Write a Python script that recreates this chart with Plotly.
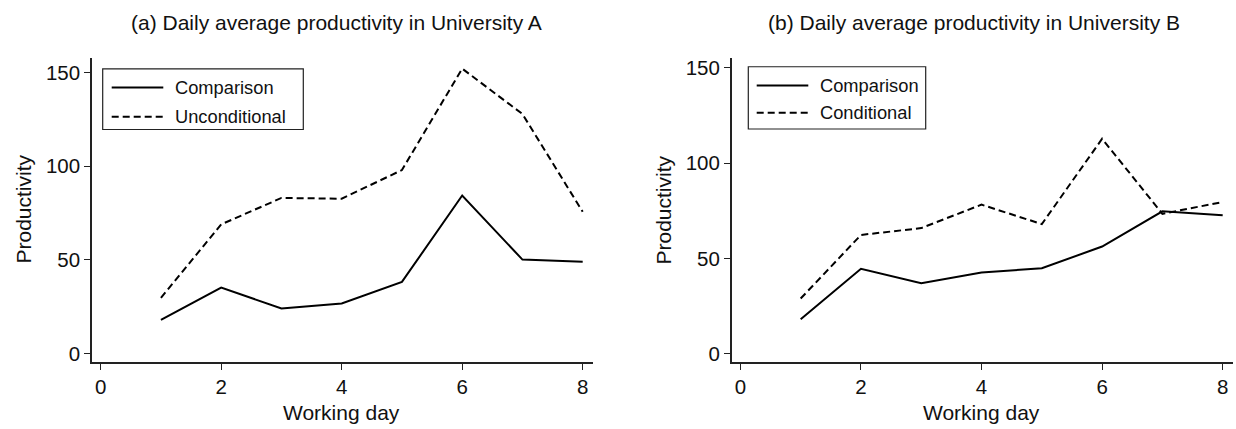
import plotly.graph_objects as go

days = [1, 2, 3, 4, 5, 6, 7, 8]
a_comparison = [18, 35.2, 24, 26.7, 38.2, 84.3, 50.1, 49]
a_unconditional = [29.7, 68.9, 83, 82.6, 97.9, 152, 127.8, 75.6]
b_comparison = [18, 44.5, 36.9, 42.6, 44.8, 56.2, 74.7, 72.7]
b_conditional = [28.9, 62.3, 65.9, 78.2, 68, 112.8, 73.4, 79.6]

x_ticks = [0, 2, 4, 6, 8]
y_ticks = [0, 50, 100, 150]
title_a = "(a) Daily average productivity in University A"
title_b = "(b) Daily average productivity in University B"
legend_a = ["Comparison", "Unconditional"]
legend_b = ["Comparison", "Conditional"]

W, H = 1236, 429
FONT = "Liberation Sans, Arial, sans-serif"
DASH = "7px,4px"
INK = "#111"

fig = go.Figure()
fig.add_trace(go.Scatter(x=days, y=a_comparison, mode="lines", name=legend_a[0],
                         line=dict(color="black", width=2), xaxis="x", yaxis="y"))
fig.add_trace(go.Scatter(x=days, y=a_unconditional, mode="lines", name=legend_a[1],
                         line=dict(color="black", width=2, dash=DASH), xaxis="x", yaxis="y"))
fig.add_trace(go.Scatter(x=days, y=b_comparison, mode="lines", name=legend_b[0],
                         line=dict(color="black", width=2), xaxis="x2", yaxis="y2"))
fig.add_trace(go.Scatter(x=days, y=b_conditional, mode="lines", name=legend_b[1],
                         line=dict(color="black", width=2, dash=DASH), xaxis="x2", yaxis="y2"))


def px(x):
    return x / W


def py(y):
    return 1 - y / H


axis_common = dict(showline=True, linecolor="#222", linewidth=1.5, ticks="outside", ticklen=6,
                   tickwidth=1.2, tickcolor="#222", showgrid=False, zeroline=False,
                   tickfont=dict(family=FONT, size=20.5, color=INK))

fig.update_layout(
    width=W, height=H,
    margin=dict(l=0, r=0, t=0, b=0),
    paper_bgcolor="white", plot_bgcolor="white",
    font=dict(family=FONT, color=INK),
    showlegend=False,
    xaxis=dict(domain=[px(92), px(592.7)], range=[-0.144, 8.166], tickvals=x_ticks, anchor="y", **axis_common),
    yaxis=dict(domain=[py(364), py(57)], range=[-4.4, 157.5], tickvals=y_ticks, anchor="x", **axis_common),
    xaxis2=dict(domain=[px(731.7), px(1232.7)], range=[-0.144, 8.166], tickvals=x_ticks, anchor="y2", **axis_common),
    yaxis2=dict(domain=[py(364), py(56.7)], range=[-4.3, 155.2], tickvals=y_ticks, anchor="x2", **axis_common),
)

title_font = dict(family=FONT, size=21, color=INK)
label_font = dict(family=FONT, size=21, color=INK)
leg_font = dict(family=FONT, size=18.3, color=INK)

anns = [
    dict(text=title_a, x=px(336.5), y=py(21)),
    dict(text=title_b, x=px(974.2), y=py(21)),
    dict(text="Working day", x=px(341.5), y=py(415), font=label_font),
    dict(text="Working day", x=px(981.7), y=py(415), font=label_font),
    dict(text="Productivity", x=px(24), y=py(210), textangle=-90, font=label_font),
    dict(text="Productivity", x=px(664), y=py(210), textangle=-90, font=label_font),
]
for a in anns:
    a.setdefault("font", title_font)
    a.update(xref="paper", yref="paper", showarrow=False, xanchor="center", yanchor="middle")

shapes = []
# manual legend boxes (paper coordinates)
legend_specs = [
    dict(box=(102.7, 67.7, 303.3, 129), line=(111.7, 163.3), text_x=173, rows=(86.5, 116.2), labels=legend_a),
    dict(box=(748.3, 65.5, 925.7, 128.5), line=(756.7, 808.3), text_x=818.3, rows=(84.5, 112), labels=legend_b),
]
for spec in legend_specs:
    x0, y0, x1, y1 = spec["box"]
    shapes.append(dict(type="rect", xref="paper", yref="paper", x0=px(x0), x1=px(x1), y0=py(y1), y1=py(y0),
                       line=dict(color="#222", width=1.2), fillcolor="white", layer="above"))
    for i, (ry, lab) in enumerate(zip(spec["rows"], spec["labels"])):
        shapes.append(dict(type="line", xref="paper", yref="paper", x0=px(spec["line"][0]), x1=px(spec["line"][1]),
                           y0=py(ry), y1=py(ry), layer="above",
                           line=dict(color="black", width=2, dash="solid" if i == 0 else DASH)))
        anns.append(dict(text=lab, x=px(spec["text_x"]), y=py(ry), xref="paper", yref="paper", showarrow=False,
                         xanchor="left", yanchor="middle", font=leg_font))

fig.update_layout(annotations=anns, shapes=shapes)

fig.write_html("out.html", config={"displayModeBar": False},
               post_script="document.body.style.margin='0px';")
